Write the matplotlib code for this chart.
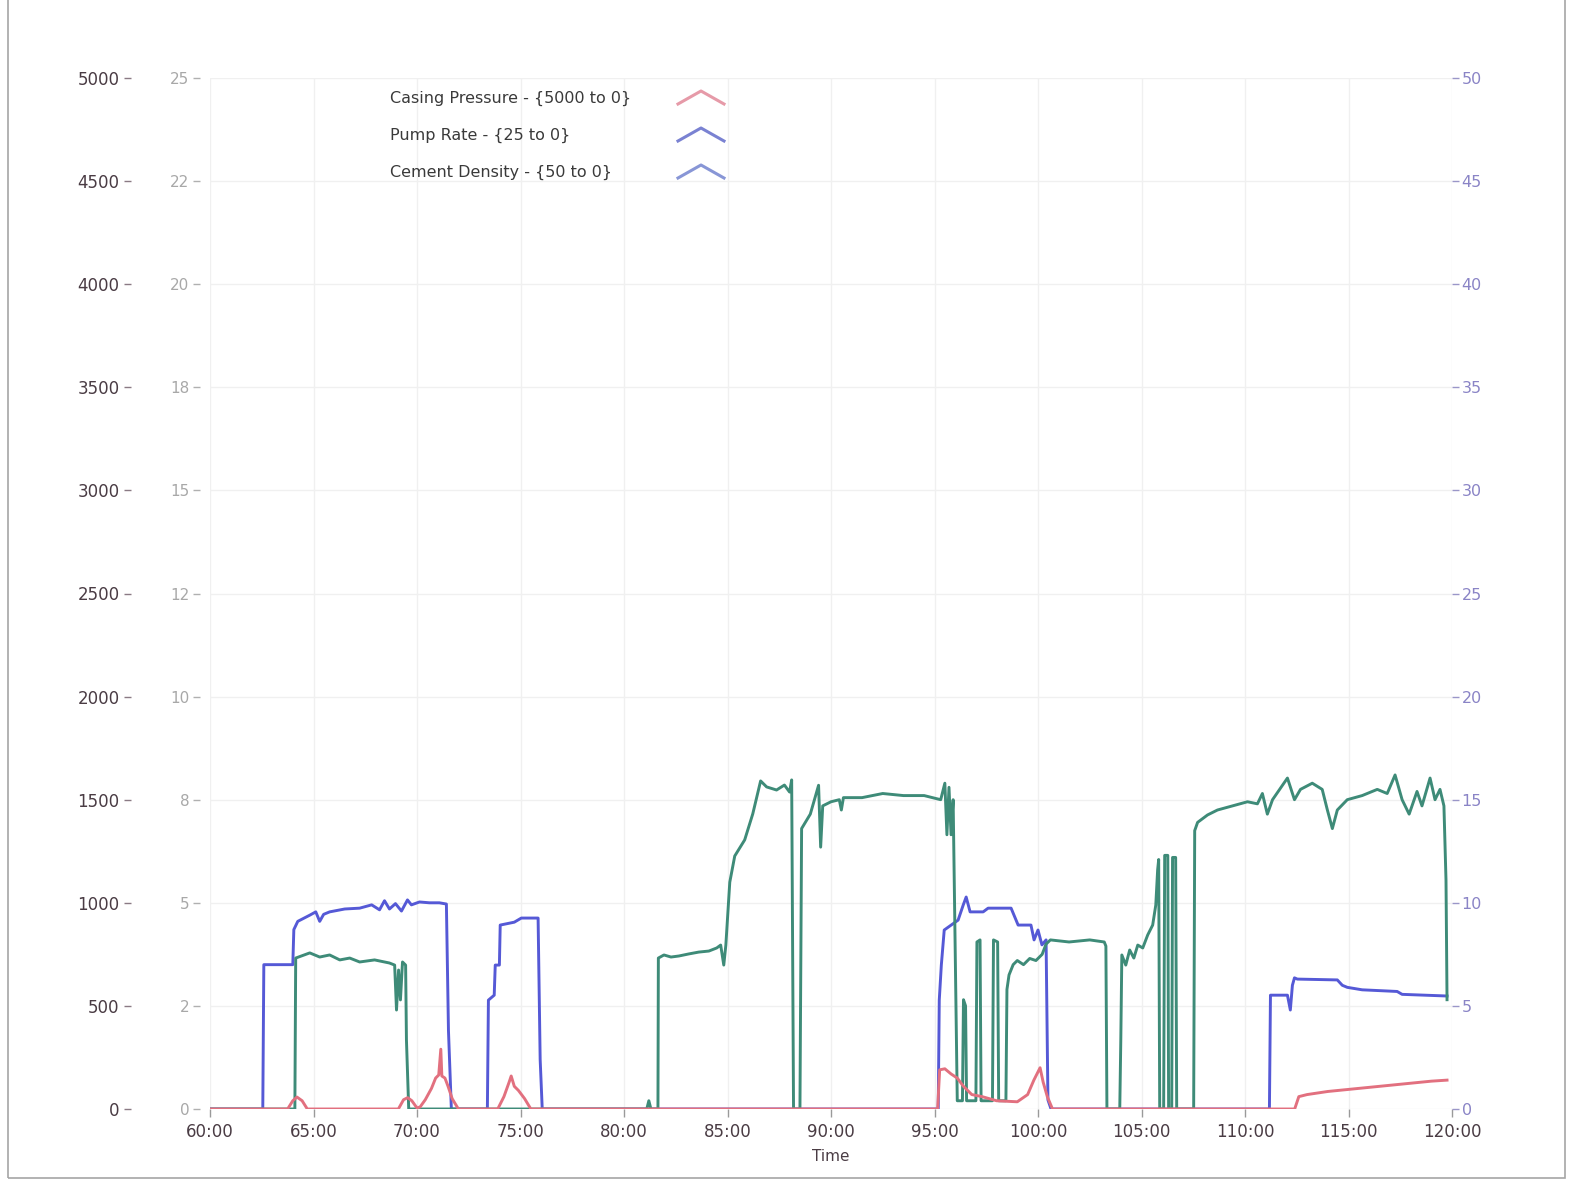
import matplotlib.pyplot as plt
from matplotlib.lines import Line2D
from matplotlib.patches import Rectangle

# time axis in minutes
x_ticks = [60, 65, 70, 75, 80, 85, 90, 95, 100, 105, 110, 115, 120]
x_tick_labels = ["%d:00" % t for t in x_ticks]

# Pump rate (bpm), scale 25 to 0
pump_t = [60, 62.55, 62.60, 64.00, 64.05, 64.24, 64.82, 65.11, 65.30, 65.49, 65.78, 66.51,
          67.23, 67.81, 68.19, 68.43, 68.67, 68.96, 69.25, 69.54, 69.73, 70.12, 70.60,
          71.08, 71.42, 71.52, 71.66,
          73.40, 73.45, 73.73, 73.78, 73.98, 74.02, 74.70, 75.04, 75.85, 75.95, 76.05,
          95.18, 95.23, 95.33, 95.47, 96.14, 96.39, 96.53, 96.72, 97.35, 97.59, 98.70,
          99.04, 99.66, 99.81, 100.0, 100.19, 100.39, 100.48, 100.63,
          111.18, 111.23, 112.05, 112.19, 112.29, 112.39, 112.53, 114.46, 114.70,
          114.94, 115.66, 117.35, 117.59, 119.76]
pump_v = [0, 0, 3.5, 3.5, 4.35, 4.55, 4.70, 4.78, 4.55, 4.72, 4.78, 4.85,
          4.87, 4.95, 4.83, 5.05, 4.85, 4.98, 4.80, 5.07, 4.95, 5.02, 5.0,
          5.0, 4.97, 1.9, 0,
          0, 2.64, 2.76, 3.49, 3.49, 4.46, 4.53, 4.63, 4.63, 1.2, 0,
          0, 2.64, 3.49, 4.34, 4.58, 4.95, 5.14, 4.78, 4.78, 4.87, 4.87,
          4.46, 4.46, 4.10, 4.34, 3.98, 4.10, 0.22, 0,
          0, 2.76, 2.76, 2.40, 3.0, 3.18, 3.15, 3.13, 3.0,
          2.95, 2.89, 2.85, 2.78, 2.74]

# Cement density (ppg), scale 50 to 0
dens_t = [60, 64.10, 64.14, 64.82, 65.30, 65.78, 66.27, 66.75, 67.23, 67.95, 68.67, 68.92,
          69.01, 69.11, 69.20, 69.30, 69.45, 69.49, 69.60,
          81.1, 81.2, 81.3, 81.64, 81.66, 81.93, 82.27, 82.65, 83.13, 83.61, 84.10, 84.48,
          84.67, 84.82, 84.92, 85.11, 85.35, 85.83, 86.22, 86.60, 86.89, 87.37, 87.75,
          88.0, 88.10, 88.19, 88.50, 88.58, 89.0, 89.4, 89.5, 89.6, 90.0, 90.4, 90.5,
          90.6, 91.5, 92.5, 93.5, 94.5, 95.3, 95.5, 95.6, 95.7, 95.8, 95.9, 96.1,
          96.35, 96.4, 96.5, 96.55, 97.0, 97.05, 97.2, 97.25, 97.8, 97.85, 98.05, 98.1,
          98.45, 98.5, 98.6, 98.8, 99.0, 99.3, 99.6, 99.9, 100.2, 100.39, 100.6, 101.5,
          102.5, 103.2, 103.28, 103.33,
          103.95, 104.0, 104.05, 104.24, 104.43, 104.63, 104.82, 105.06, 105.30, 105.54,
          105.69, 105.78, 105.83, 105.88, 106.07, 106.12, 106.27, 106.31, 106.46, 106.50,
          106.65, 106.70, 107.52, 107.57, 107.71, 108.19, 108.67, 109.40, 110.12, 110.60,
          110.84, 111.08, 111.33, 112.05, 112.39, 112.68, 113.25, 113.73, 113.98, 114.22,
          114.46, 114.94, 115.66, 116.39, 116.87, 117.25, 117.59, 117.93, 118.31, 118.55,
          118.94, 119.18, 119.42, 119.61, 119.71, 119.76]
dens_v = [0, 0, 7.32, 7.57, 7.37, 7.47, 7.23, 7.32, 7.13, 7.23, 7.08, 6.98,
          4.80, 6.74, 5.29, 7.13, 6.98, 3.35, 0,
          0, 0.4, 0, 0, 7.32, 7.47, 7.37, 7.42, 7.52, 7.61, 7.66, 7.81,
          7.95, 6.98, 7.95, 11.0, 12.27, 13.05, 14.31, 15.91, 15.62, 15.47, 15.71,
          15.37, 15.96, 0, 0, 13.6, 14.3, 15.7, 12.7, 14.7, 14.9, 15.0, 14.5,
          15.1, 15.1, 15.3, 15.2, 15.2, 15.0, 15.8, 13.3, 15.6, 13.3, 15.0, 0.4,
          0.4, 5.3, 5.0, 0.4, 0.4, 8.1, 8.2, 0.4, 0.4, 8.2, 8.1, 0.4,
          0.4, 5.8, 6.5, 7.0, 7.2, 7.0, 7.3, 7.2, 7.5, 8.0, 8.2, 8.1,
          8.2, 8.1, 7.9, 0,
          0, 3.35, 7.47, 6.98, 7.71, 7.32, 7.95, 7.81, 8.44, 8.92,
          9.89, 11.6, 12.1, 0, 0, 12.3, 12.3, 0, 0, 12.2,
          12.2, 0, 0, 13.5, 13.9, 14.26, 14.5, 14.7, 14.9, 14.8,
          15.3, 14.3, 15.0, 16.05, 15.0, 15.5, 15.8, 15.5, 14.5, 13.6,
          14.5, 15.0, 15.2, 15.5, 15.3, 16.2, 15.0, 14.3, 15.4, 14.7,
          16.05, 15.0, 15.5, 14.7, 11.1, 5.3]

# Casing pressure (psi), scale 5000 to 0
press_t = [60, 63.75, 64.0, 64.2, 64.45, 64.7,
           69.1, 69.35, 69.55, 69.75, 70.0, 70.15, 70.4, 70.7, 70.9, 71.05, 71.15, 71.2,
           71.35, 71.5, 71.7, 72.0,
           73.9, 74.2, 74.45, 74.55, 74.7, 74.9, 75.2, 75.5,
           95.15, 95.25, 95.5, 95.8, 96.1, 96.4, 96.8, 97.3, 98.0, 99.0, 99.5, 99.8,
           100.1, 100.25, 100.45, 100.7,
           112.4, 112.6, 113.0, 114.0, 115.0, 116.0, 117.0, 118.0, 119.0, 119.76]
press_v = [0, 0, 40, 58, 40, 0,
           0, 45, 55, 40, 5, 10, 45, 100, 150, 165, 290, 160,
           150, 110, 50, 0,
           0, 60, 130, 160, 110, 90, 50, 0,
           0, 190, 195, 170, 150, 110, 70, 60, 40, 35, 70, 140,
           200, 130, 60, 0,
           0, 60, 70, 85, 95, 105, 115, 125, 135, 140]

legend_labels = ["Casing Pressure - {5000 to 0}", "Pump Rate - {25 to 0}",
                 "Cement Density - {50 to 0}"]

c_press = "#e2707f"
c_pump = "#5559d6"
c_dens = "#3e8b78"

W, H = 1585, 1199
fig = plt.figure(figsize=(W / 100, H / 100), dpi=100)
fig.patch.set_facecolor("white")

ax_rate = fig.add_axes([210 / W, 1 - 1109 / H, (1452 - 210) / W, (1109 - 78) / H])
ax_dens = ax_rate.twinx()
ax_pres = ax_rate.twinx()

for a in (ax_rate, ax_dens, ax_pres):
    for s in a.spines.values():
        s.set_visible(False)
    a.set_xlim(60, 120)

ax_rate.set_ylim(0, 25)
ax_dens.set_ylim(0, 50)
ax_pres.set_ylim(0, 5000)

# x axis
ax_rate.set_xticks(x_ticks)
ax_rate.set_xticklabels(x_tick_labels)
ax_rate.tick_params(axis="x", direction="out", length=6, width=1, color="#9a9a9a",
                    labelsize=12, labelcolor="#4a3c44", pad=4)
ax_rate.set_xlabel("Time", fontsize=11, color="#4a3c44", labelpad=6)

# pump rate axis (inner left)
rate_ticks = [i * 2.5 for i in range(11)]
ax_rate.set_yticks(rate_ticks)
ax_rate.set_yticklabels([str(round(v)) for v in rate_ticks])
ax_rate.spines["left"].set_position(("outward", 7))
ax_rate.tick_params(axis="y", direction="out", length=5, width=1, color="#b0b0b0",
                    labelsize=11, labelcolor="#a8a8a8", pad=3)
ax_rate.grid(True, color="#f0f0f0", lw=1)
ax_rate.set_axisbelow(True)

# density axis (right)
ax_dens.set_yticks(range(0, 55, 5))
ax_dens.tick_params(axis="y", direction="out", length=5, width=1, color="#9a96c8",
                    labelsize=11.5, labelcolor="#8a84c6", pad=2)

# pressure axis (outer left)
ax_pres.yaxis.tick_left()
ax_pres.spines["left"].set_position(("outward", 57))
ax_pres.set_yticks(range(0, 5500, 500))
ax_pres.tick_params(axis="y", direction="out", length=5, width=1, color="#8a7a84",
                    labelsize=12, labelcolor="#4a3c44", pad=3)

ax_rate.plot(pump_t, pump_v, color=c_pump, lw=2.1)
ax_dens.plot(dens_t, dens_v, color=c_dens, lw=2.1)
ax_pres.plot(press_t, press_v, color=c_press, lw=2.1)

# legend
leg_colors = ["#e69aa8", "#7a82d2", "#8896d6"]
for i, (lab, col) in enumerate(zip(legend_labels, leg_colors)):
    yc = 98 + i * 37
    fig.text(390 / W, 1 - yc / H, lab, ha="left", va="center", fontsize=11.5,
             color="#3a3a3a")
    fig.add_artist(Line2D([678 / W, 701 / W, 724 / W],
                          [1 - (yc + 6) / H, 1 - (yc - 7) / H, 1 - (yc + 6) / H],
                          transform=fig.transFigure, color=col, lw=2.2))

# scan frame
fig.add_artist(Rectangle((8 / W, 1 - 1178 / H), (1565 - 8) / W, 1.5,
                         transform=fig.transFigure, fill=False,
                         edgecolor="#a5a5a5", lw=1.2))

fig.savefig("out.png", dpi=100)
